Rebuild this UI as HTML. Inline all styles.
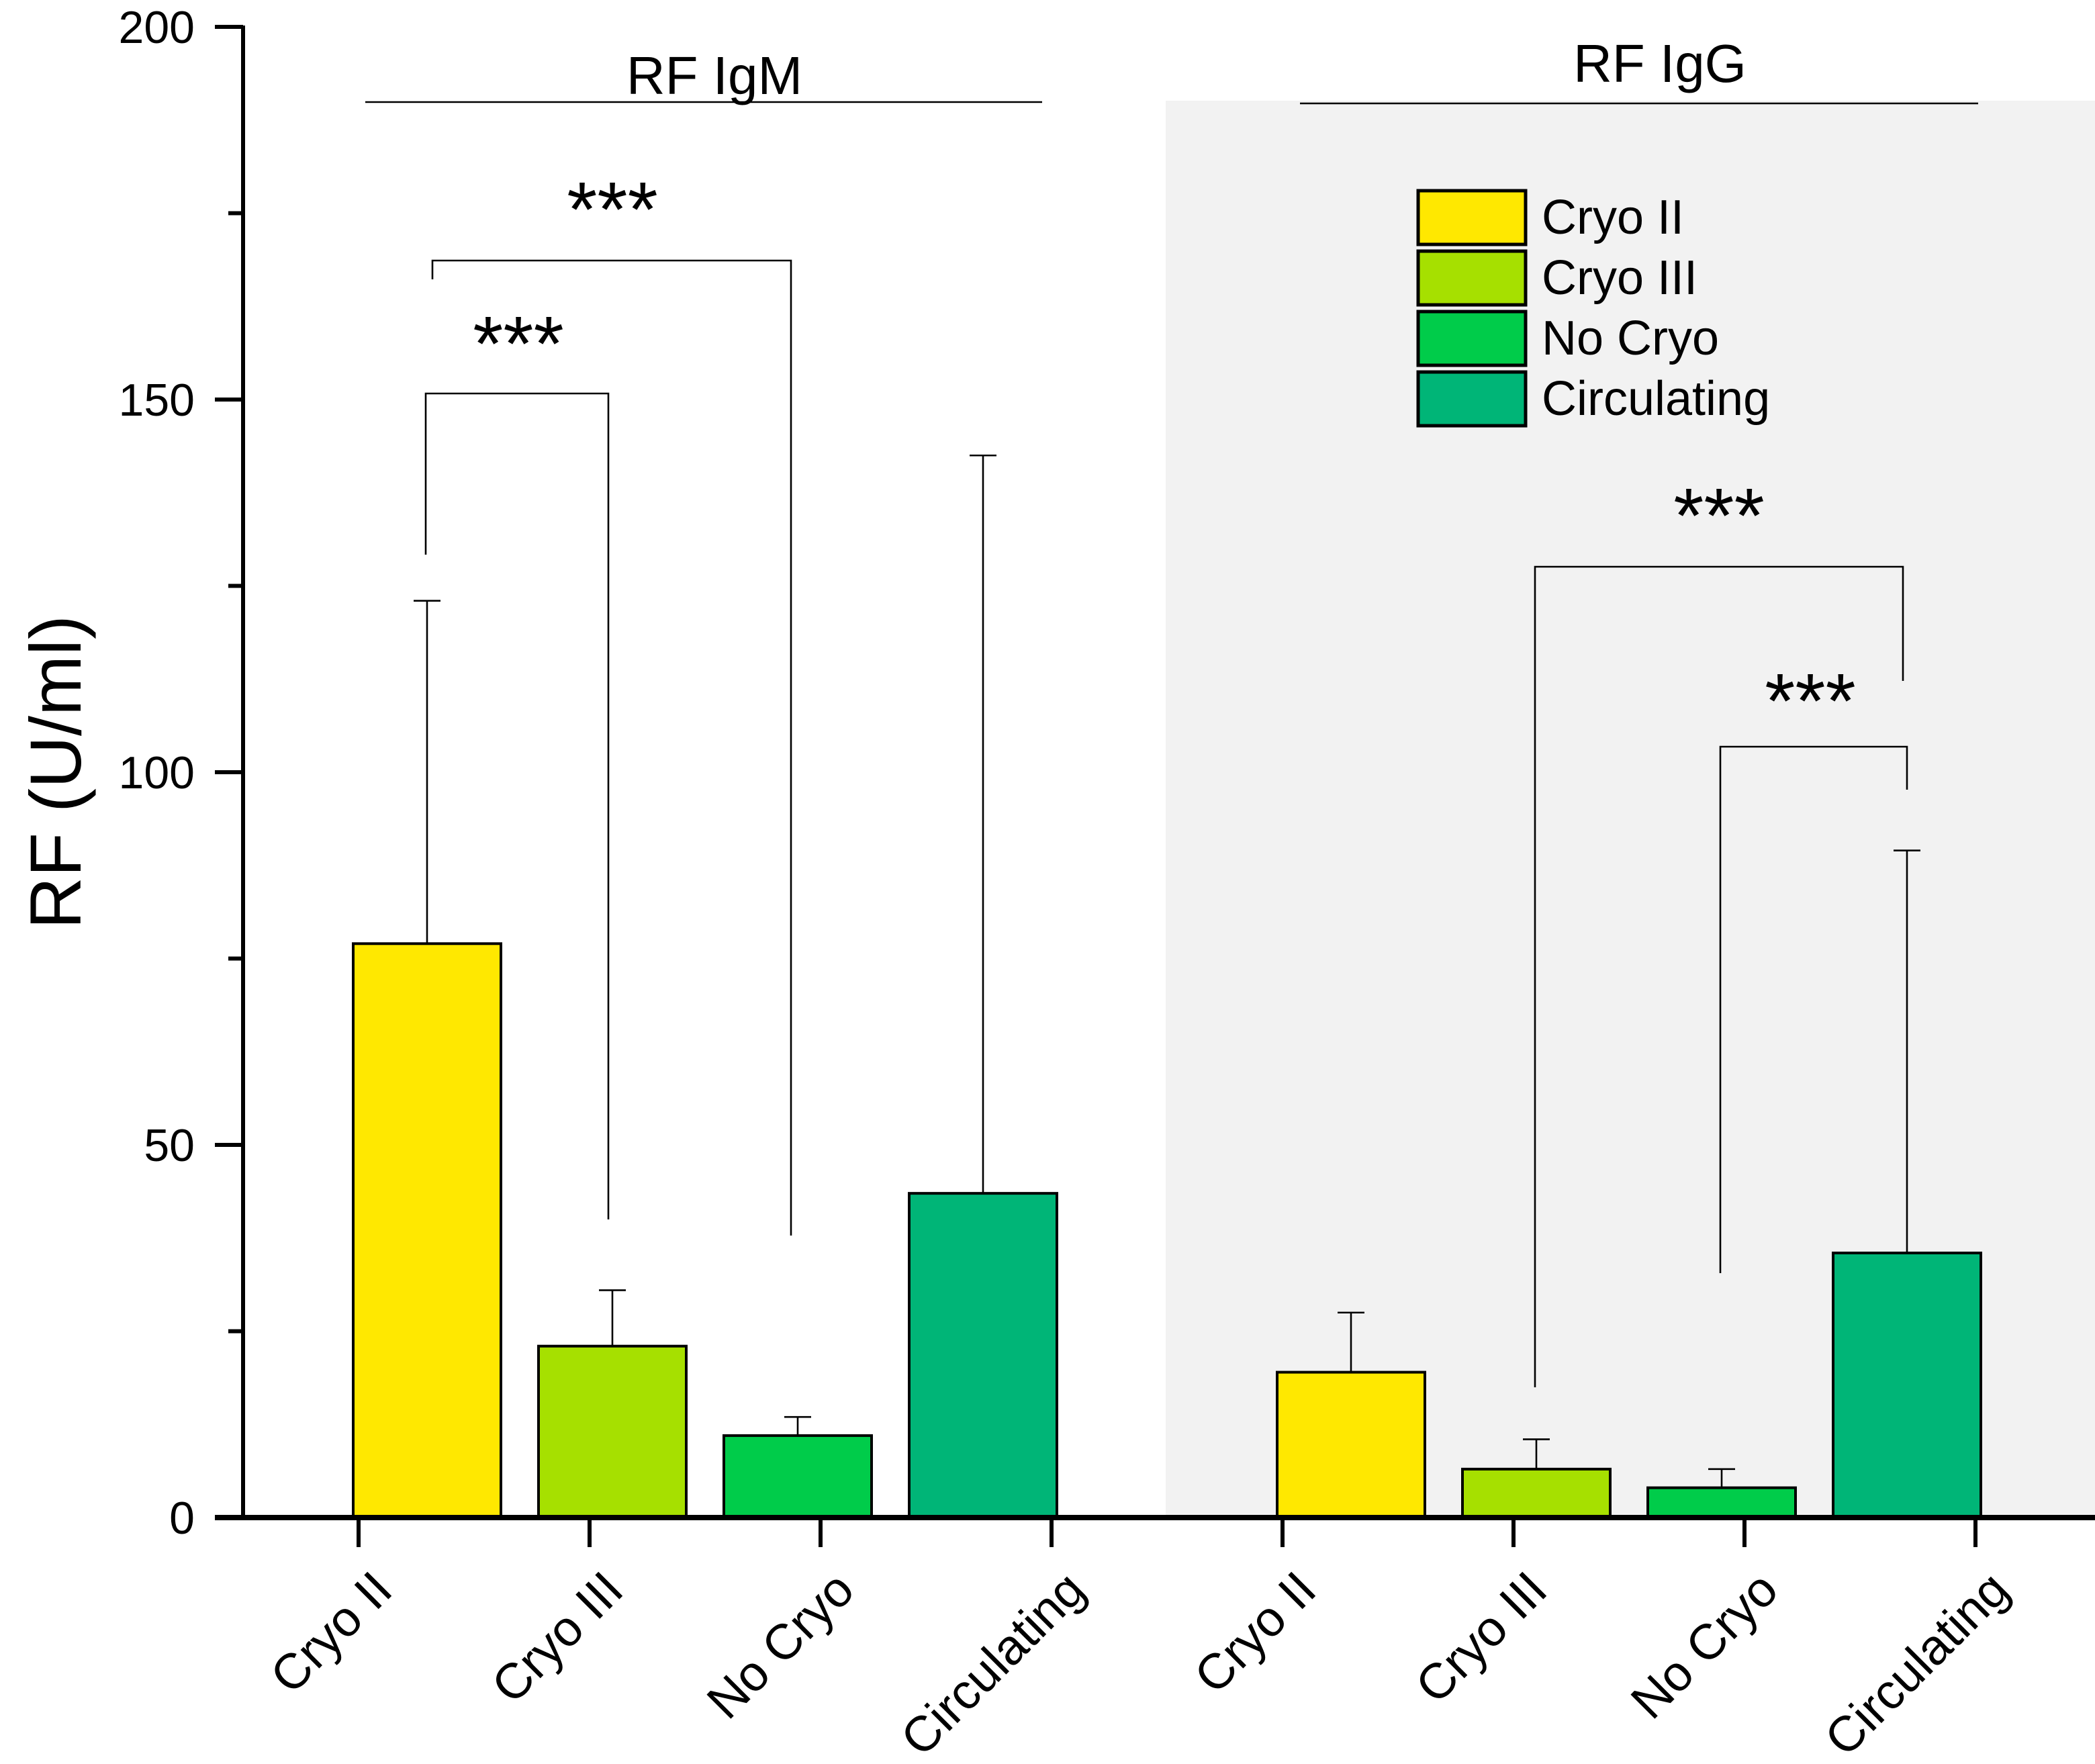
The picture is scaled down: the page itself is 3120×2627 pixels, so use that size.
<!DOCTYPE html>
<html><head><meta charset="utf-8"><style>html,body{margin:0;padding:0;background:#fff}svg{display:block}text{font-family:"Liberation Sans",Arial,sans-serif;fill:#000}</style></head>
<body>
<svg id="chart" width="3120" height="2627" viewBox="0 0 1560 1313.5" xmlns="http://www.w3.org/2000/svg">
<rect x="868" y="75" width="692" height="1055" fill="#f2f2f2"/>
<g id="g"></g>
</svg>
<script>
const categories = ["Cryo II","Cryo III","No Cryo","Circulating"];
const igmValues = [77, 23, 11, 43.5];
const igmErrors = [46, 7.5, 2.5, 99];
const iggValues = [19.5, 6.5, 4, 35.5];
const iggErrors = [8, 4, 2.5, 54];
const yTicks = [0, 50, 100, 150, 200];
const colors = ["#ffe800","#a6e000","#00cc4a","#00b577"];
const NS="http://www.w3.org/2000/svg";
const g=document.getElementById('g');
function yS(v){return 1130-(v/200)*1110;}
function barX(group,i){return (group===0?318:1006)+i*138;}
function tickX(k){return 267+(k%4)*172+(k>=4?688:0);}
function mk(tag,attrs,parent){const e=document.createElementNS(NS,tag);for(const k in attrs)e.setAttribute(k,attrs[k]);(parent||g).appendChild(e);return e;}
[[igmValues,igmErrors],[iggValues,iggErrors]].forEach(([vals,errs],gi)=>{
  vals.forEach((v,i)=>{
    const cx=barX(gi,i);
    const top=yS(v+errs[i]);
    const l=mk('line',{x1:cx,x2:cx,y1:top,y2:yS(v),stroke:'#000','stroke-width':1.3});
    
    
    const c=mk('line',{x1:cx-10,x2:cx+10,y1:top,y2:top,stroke:'#000','stroke-width':1.3});
    
    
    const r=mk('rect',{x:cx-55,y:yS(v),width:110,height:yS(0)-yS(v),fill:colors[i],stroke:'#000','stroke-width':2});
    
    
  });
});
let a=mk('line',{x1:181,x2:181,y1:19,y2:1131,stroke:'#000','stroke-width':3});


a=mk('line',{x1:160,x2:1560,y1:1130,y2:1130,stroke:'#000','stroke-width':4});


for(let v=0;v<=200;v+=25){
  const major=v%50===0;
  const t=mk('line',{x1:major?160:170,x2:181,y1:yS(v),y2:yS(v),stroke:'#000','stroke-width':3});
  
  
}
yTicks.forEach(v=>{
  const t=mk('text',{x:145,y:yS(v)+12,'text-anchor':'end','font-size':34});
  t.textContent=v;
  
  
});
for(let k=0;k<8;k++){
  const x=tickX(k);
  const t=mk('line',{x1:x,x2:x,y1:1130,y2:1152,stroke:'#000','stroke-width':3});
  
  
  const lb=mk('text',{x:x+27,y:1186,'text-anchor':'end','font-size':37,transform:`rotate(-45 ${x+27} 1186)`});
  lb.textContent=categories[k%4];
  
  
}
let yt=mk('text',{x:60,y:575,'text-anchor':'middle','font-size':54,transform:'rotate(-90 60 575)'});
yt.textContent='RF (U/ml)';


[[532,70,272,776,76,'RF IgM'],[1236,61,968,1473,77,'RF IgG']].forEach(([tx,ty,x1,x2,ly,s])=>{
  const t=mk('text',{x:tx,y:ty,'text-anchor':'middle','font-size':40});
  t.textContent=s;
  
  
  const l=mk('line',{x1:x1,x2:x2,y1:ly,y2:ly,stroke:'#000','stroke-width':1.3});
  
  
});
[[317,413,293,453,908,386,276],[322,208,194,589,920,456,176],[1143,1033,422,1417,507,1280,404],[1281,948,556,1420,588,1348,542]].forEach(([x1,y1,yt2,x2,y2,sx,sy])=>{
  const p=mk('polyline',{points:`${x1},${y1} ${x1},${yt2} ${x2},${yt2} ${x2},${y2}`,fill:'none',stroke:'#000','stroke-width':1.3});
  
  
  const t=mk('text',{x:sx,y:sy,'text-anchor':'middle','font-size':58});
  t.textContent='***';
  
  
});
categories.forEach((c,i)=>{
  const y=142+i*45;
  const r=mk('rect',{x:1056,y:y,width:80,height:40,fill:colors[i],stroke:'#000','stroke-width':2.5});
  
  
  const t=mk('text',{x:1148,y:y+32,'font-size':36});
  t.textContent=c;
  
  
});
</script>
</body></html>
